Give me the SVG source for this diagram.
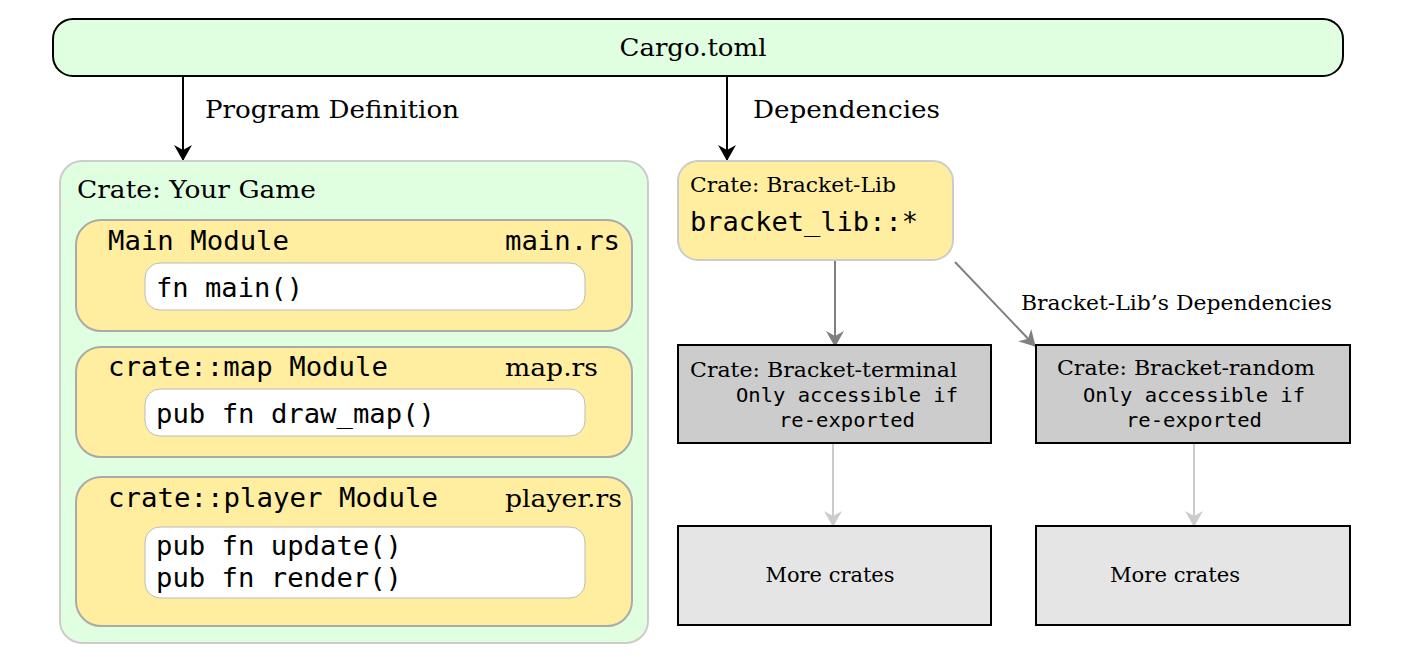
<svg xmlns="http://www.w3.org/2000/svg" width="1404" height="671" viewBox="0 0 1404 671">
<defs>
<style>
.serif{font-family:"DejaVu Serif","Liberation Serif",serif;fill:#000}
.mono{font-family:"DejaVu Sans Mono","Liberation Mono",monospace;fill:#000}
.green{fill:#e0ffe0}
.yellow{fill:#ffeea0;stroke:#aaaaaa;stroke-width:2}
.white{fill:#ffffff;stroke:#bbbbbb;stroke-width:1}
.gray{fill:#cccccc;stroke:#000;stroke-width:2}
.lgray{fill:#e5e5e5;stroke:#000;stroke-width:2}
.cb{stroke:#000;stroke-width:2;fill:none}
.cg{stroke:#808080;stroke-width:2;fill:none}
.cl{stroke:#cccccc;stroke-width:2;fill:none}
</style>
<marker id="ab" viewBox="0 0 16 18" refX="15" refY="9" markerWidth="16" markerHeight="18" markerUnits="userSpaceOnUse" orient="auto">
<path d="M0,0 L16,9 L0,18 L5,9 Z" fill="#000"/>
</marker>
<marker id="ag" viewBox="0 0 16 18" refX="15" refY="9" markerWidth="16" markerHeight="18" markerUnits="userSpaceOnUse" orient="auto">
<path d="M0,0 L16,9 L0,18 L5,9 Z" fill="#808080"/>
</marker>
<marker id="al" viewBox="0 0 16 18" refX="15" refY="9" markerWidth="16" markerHeight="18" markerUnits="userSpaceOnUse" orient="auto">
<path d="M0,0 L16,9 L0,18 L5,9 Z" fill="#cccccc"/>
</marker>
</defs>
<rect width="1404" height="671" fill="#ffffff"/>

<g id="cargo">
<rect x="53" y="19" width="1290" height="57" rx="20" class="green" stroke="#000" stroke-width="2"/>
<text x="693" y="56" class="serif" font-size="25" text-anchor="middle" textLength="147" lengthAdjust="spacingAndGlyphs">Cargo.toml</text>
</g>

<g id="connectors">
<line x1="183" y1="76" x2="183" y2="160" class="cb" marker-end="url(#ab)"/>
<line x1="727" y1="76" x2="727" y2="160" class="cb" marker-end="url(#ab)"/>
<line x1="835" y1="260" x2="835" y2="346" class="cg" marker-end="url(#ag)"/>
<line x1="955" y1="262" x2="1035" y2="346" class="cg" marker-end="url(#ag)"/>
<line x1="833" y1="443" x2="833" y2="526" class="cl" marker-end="url(#al)"/>
<line x1="1194" y1="443" x2="1194" y2="526" class="cl" marker-end="url(#al)"/>
<text x="205" y="118" class="serif" font-size="25" textLength="254" lengthAdjust="spacingAndGlyphs">Program Definition</text>
<text x="753" y="118" class="serif" font-size="25" textLength="187" lengthAdjust="spacingAndGlyphs">Dependencies</text>
<text x="1021" y="310" class="serif" font-size="20.5" textLength="311" lengthAdjust="spacingAndGlyphs">Bracket-Lib’s Dependencies</text>
</g>

<g id="your-game">
<rect x="60" y="161" width="588" height="482" rx="22" class="green" stroke="#cccccc" stroke-width="2"/>
<text x="77" y="198" class="serif" font-size="25" textLength="239" lengthAdjust="spacingAndGlyphs">Crate: Your Game</text>
</g>

<g id="main-module">
<rect x="76" y="220" width="556" height="111" rx="25" class="yellow"/>
<text x="108" y="250" class="mono" font-size="26" textLength="181" lengthAdjust="spacingAndGlyphs">Main Module</text>
<text x="505" y="250" class="mono" font-size="26" textLength="115" lengthAdjust="spacingAndGlyphs">main.rs</text>
<rect x="145" y="263" width="440" height="47" rx="15" class="white"/>
<text x="156" y="297" class="mono" font-size="26" textLength="147" lengthAdjust="spacingAndGlyphs">fn main()</text>
</g>

<g id="map-module">
<rect x="76" y="347" width="556" height="110" rx="25" class="yellow"/>
<text x="108" y="376" class="mono" font-size="26" textLength="280" lengthAdjust="spacingAndGlyphs">crate::map Module</text>
<text x="505" y="376" class="serif" font-size="25" textLength="93" lengthAdjust="spacingAndGlyphs">map.rs</text>
<rect x="145" y="389" width="440" height="47" rx="15" class="white"/>
<text x="156" y="423" class="mono" font-size="26" textLength="279" lengthAdjust="spacingAndGlyphs">pub fn draw_map()</text>
</g>

<g id="player-module">
<rect x="76" y="477" width="556" height="149" rx="25" class="yellow"/>
<text x="108" y="507" class="mono" font-size="26" textLength="330" lengthAdjust="spacingAndGlyphs">crate::player Module</text>
<text x="505" y="507" class="serif" font-size="25" textLength="117" lengthAdjust="spacingAndGlyphs">player.rs</text>
<rect x="145" y="527" width="440" height="71" rx="15" class="white"/>
<text x="156" y="555" class="mono" font-size="26" textLength="246" lengthAdjust="spacingAndGlyphs">pub fn update()</text>
<text x="156" y="587" class="mono" font-size="26" textLength="246" lengthAdjust="spacingAndGlyphs">pub fn render()</text>
</g>

<g id="bracket-lib">
<rect x="678" y="161" width="275" height="99" rx="20" fill="#ffeea0" stroke="#cccccc" stroke-width="2"/>
<text x="690" y="192" class="serif" font-size="20.5" textLength="206" lengthAdjust="spacingAndGlyphs">Crate: Bracket-Lib</text>
<text x="690" y="231" class="mono" font-size="26" textLength="228" lengthAdjust="spacingAndGlyphs">bracket_lib::*</text>
</g>

<g id="bracket-terminal">
<rect x="678" y="345" width="313" height="98" class="gray"/>
<text x="690" y="377" class="serif" font-size="20.5" textLength="267" lengthAdjust="spacingAndGlyphs">Crate: Bracket-terminal</text>
<text x="847" y="402" class="mono" font-size="19" text-anchor="middle" textLength="222" lengthAdjust="spacingAndGlyphs">Only accessible if</text>
<text x="847" y="427" class="mono" font-size="19" text-anchor="middle" textLength="136" lengthAdjust="spacingAndGlyphs">re-exported</text>
</g>

<g id="bracket-random">
<rect x="1036" y="345" width="314" height="98" class="gray"/>
<text x="1057" y="375" class="serif" font-size="20.5" textLength="258" lengthAdjust="spacingAndGlyphs">Crate: Bracket-random</text>
<text x="1194" y="402" class="mono" font-size="19" text-anchor="middle" textLength="222" lengthAdjust="spacingAndGlyphs">Only accessible if</text>
<text x="1194" y="427" class="mono" font-size="19" text-anchor="middle" textLength="136" lengthAdjust="spacingAndGlyphs">re-exported</text>
</g>

<g id="more-crates-1">
<rect x="678" y="526" width="313" height="99" class="lgray"/>
<text x="830" y="582" class="serif" font-size="20.5" text-anchor="middle" textLength="129" lengthAdjust="spacingAndGlyphs">More crates</text>
</g>

<g id="more-crates-2">
<rect x="1036" y="526" width="314" height="99" class="lgray"/>
<text x="1175" y="582" class="serif" font-size="20.5" text-anchor="middle" textLength="130" lengthAdjust="spacingAndGlyphs">More crates</text>
</g>
</svg>
